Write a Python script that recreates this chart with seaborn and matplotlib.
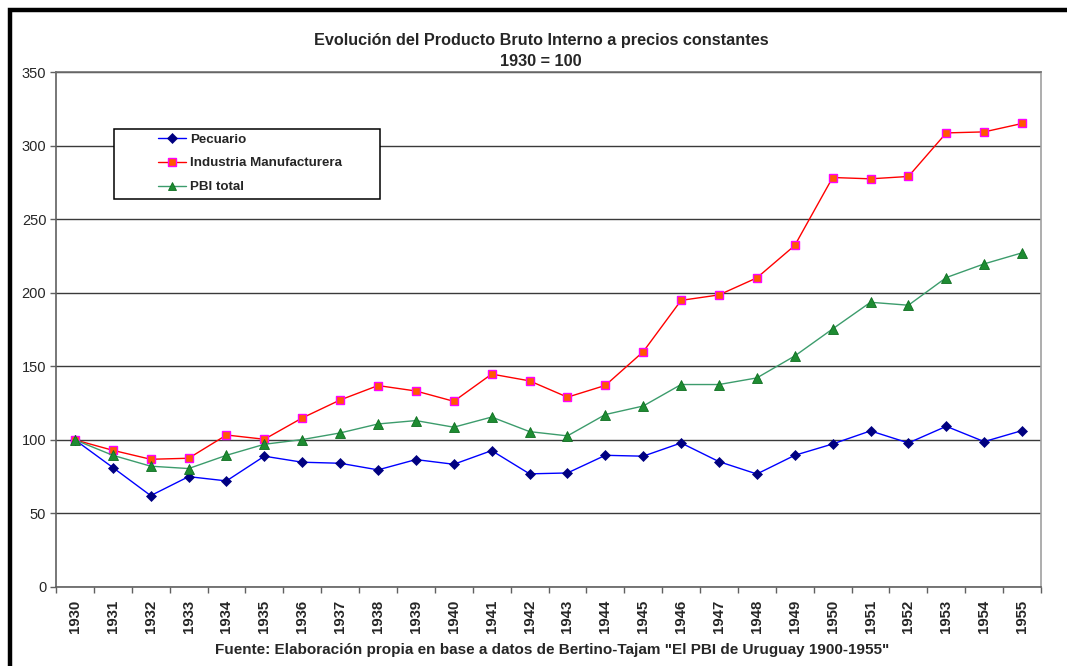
import numpy as np
import pandas as pd
import matplotlib
matplotlib.use("Agg")
import matplotlib.pyplot as plt
import seaborn as sns
from matplotlib.patches import Rectangle
from matplotlib.lines import Line2D

years = list(range(1930, 1956))
pecuario = [100, 81.2, 62.1, 75.0, 72.1, 88.9, 84.8, 84.1, 79.6, 86.6, 83.4, 92.7, 76.9,
            77.5, 89.5, 88.9, 97.9, 85.2, 76.8, 89.5, 97.2, 106.1, 97.9, 109.2, 98.8, 106.3]
industria = [100, 92.9, 86.8, 87.5, 103.3, 100.4, 114.9, 127.1, 136.9, 133.2, 126.2, 144.7, 140.1,
             129.0, 137.0, 159.9, 194.8, 198.5, 210.1, 232.1, 278.3, 277.4, 279.0, 308.6, 309.3, 315.0]
pbi_total = [100, 89.5, 82.1, 80.5, 89.5, 97.0, 100.2, 104.7, 110.8, 113.1, 108.6, 115.5, 105.6,
             102.7, 117.2, 123.0, 137.6, 137.6, 142.1, 157.0, 175.4, 193.5, 191.5, 210.3, 219.6, 227.1]
series_names = ["Pecuario", "Industria Manufacturera", "PBI total"]
title_lines = ["Evolución del Producto Bruto Interno a precios constantes", "1930 = 100"]
source_text = 'Fuente: Elaboración propia en base a datos de Bertino-Tajam "El PBI de Uruguay 1900-1955"'

sns.set_style("white")
plt.rcParams['font.family'] = ['Liberation Sans', 'DejaVu Sans']

W, H = 1067, 666
fig = plt.figure(figsize=(W / 100, H / 100), dpi=100)
ax = fig.add_axes([56 / W, 1 - 587 / H, (1041 - 56) / W, (587 - 72) / H])

df = pd.DataFrame({"year": years, "Pecuario": pecuario,
                   "Industria Manufacturera": industria, "PBI total": pbi_total})

styles = {
    "Pecuario": dict(color="#0000FF", marker="D", markersize=5.2, markerfacecolor="#000080",
                     markeredgecolor="#000080"),
    "Industria Manufacturera": dict(color="#FF0000", marker="s", markersize=5.8,
                                    markerfacecolor="#FF5A00", markeredgecolor="#FF00FF",
                                    markeredgewidth=1.0),
    "PBI total": dict(color="#3C9C6C", marker="^", markersize=6.8, markerfacecolor="#1E8C32",
                      markeredgecolor="#0E6E20", markeredgewidth=0.6),
}

handles = []
for name in series_names:
    st = styles[name]
    sns.lineplot(data=df, x="year", y=name, ax=ax, linewidth=1.0, color=st["color"],
                 marker=st["marker"], markersize=st["markersize"],
                 markerfacecolor=st["markerfacecolor"], markeredgecolor=st["markeredgecolor"],
                 markeredgewidth=st.get("markeredgewidth", 0.5), zorder=3)
    handles.append(Line2D([], [], color=st["color"], linewidth=1.0, marker=st["marker"],
                          markersize=st["markersize"] - 0.5,
                          markerfacecolor=st["markerfacecolor"],
                          markeredgecolor=st["markeredgecolor"],
                          markeredgewidth=st.get("markeredgewidth", 0.5)))

ax.set_xlim(years[0] - 0.5, years[-1] + 0.5)
ax.set_ylim(0, 350)
ax.set_yticks(np.arange(0, 351, 50))
ax.set_yticklabels([str(v) for v in range(0, 351, 50)], fontsize=10.5)
ax.set_xticks(years)
ax.set_xticklabels([str(y) for y in years], rotation=90, fontsize=10.8, fontweight="bold")
ax.set_xticks(np.arange(years[0] - 0.5, years[-1] + 1.0, 1.0), minor=True)
ax.tick_params(axis="x", which="major", length=0, pad=9)
ax.tick_params(axis="x", which="minor", length=4, width=1, color="#606060", direction="out")
ax.tick_params(axis="y", which="major", length=4, width=1, color="#606060", direction="out", pad=3)
ax.xaxis.set_ticks_position("bottom")
ax.yaxis.set_ticks_position("left")
ax.set_xlabel("")
ax.set_ylabel("")
ax.yaxis.grid(True, color="#3a3a3a", linewidth=1.0)
ax.xaxis.grid(False)
ax.set_axisbelow(True)
for side, col in [("left", "#606060"), ("bottom", "#606060"), ("top", "#707070"), ("right", "#a0a0a0")]:
    ax.spines[side].set_visible(True)
    ax.spines[side].set_color(col)
    ax.spines[side].set_linewidth(1.2)

# Title and source
fig.text(541 / W, 1 - 41 / H, title_lines[0], ha="center", va="center", fontsize=11.7, fontweight="bold")
fig.text(541 / W, 1 - 62 / H, title_lines[1], ha="center", va="center", fontsize=11.7, fontweight="bold")
fig.text(552 / W, 1 - 650 / H, source_text, ha="center", va="center", fontsize=11, fontweight="bold")

# Legend box and legend
fig.patches.append(Rectangle((114 / W, 1 - 199 / H), 266 / W, 70 / H, transform=fig.transFigure,
                             facecolor="white", edgecolor="black", linewidth=1.1, zorder=5))
leg = fig.legend(handles, series_names, loc="upper left", bbox_to_anchor=(155 / W, 1 - 130 / H),
                 frameon=False, prop={"weight": "bold", "size": 9.6},
                 handlelength=2.1, handletextpad=0.3, labelspacing=0.86, borderpad=0.25,
                 borderaxespad=0)
leg.set_zorder(6)

# Outer frame (thick black top and left border)
fig.patches.append(Rectangle((9.5 / W, -0.1), 1.2, 1 - 10.5 / H + 0.1, transform=fig.transFigure,
                             facecolor="none", edgecolor="black", linewidth=3.2, zorder=10))

fig.savefig("out.png", dpi=100, facecolor="white")
